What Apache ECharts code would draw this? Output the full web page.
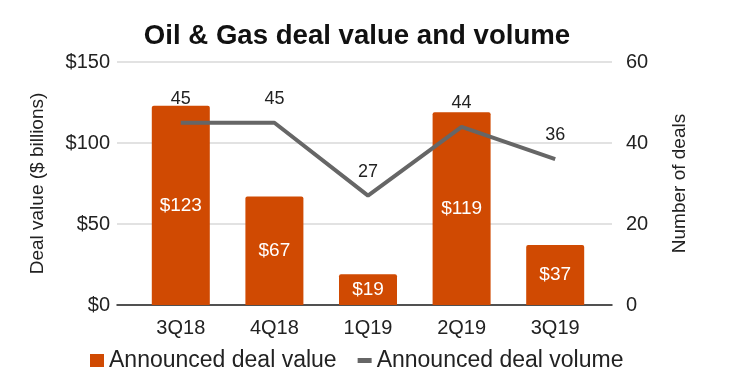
<!DOCTYPE html>
<html><head><meta charset="utf-8">
<script src="https://cdn.jsdelivr.net/npm/echarts@6/dist/echarts.min.js"></script>
<style>html,body{margin:0;padding:0;background:#fff}#c{width:736px;height:387px}</style>
</head><body><div id="c"></div>
<script>
const categories = ['3Q18','4Q18','1Q19','2Q19','3Q19'];
const dealValue = [123, 67, 19, 119, 37];
const dealVolume = [45, 45, 27, 44, 36];
const leftTicks = [0, 50, 100, 150];
const rightTicks = [0, 20, 40, 60];

const font = 'Liberation Sans, Arial, sans-serif';
const chart = echarts.init(document.getElementById('c'));
chart.setOption({
  animation: false,
  title: { text: 'Oil & Gas deal value and volume', left: 352, top: 17, textAlign: 'center',
    textStyle: { fontFamily: font, fontSize: 27.6, fontWeight: 'bold', color: '#111' } },
  legend: {
    top: 344, left: 85, itemGap: 21, itemWidth: 14, itemHeight: 13,
    textStyle: { fontFamily: font, fontSize: 23, color: '#222' },
    data: [
      { name: 'Announced deal value', icon: 'rect' },
      { name: 'Announced deal volume', icon: 'path://M0,0L14,0L14,5L0,5Z', itemStyle: { color: '#666' } }
    ]
  },
  grid: [
    { left: 117, right: 124, top: 62, bottom: 82 },
    { left: 134, right: 134, top: 62, bottom: 82 }
  ],
  xAxis: [
    { gridIndex: 0, type: 'category', data: categories, axisTick: { show: false },
      axisLabel: { show: false }, axisLine: { lineStyle: { color: '#222', width: 1.5 } } },
    { gridIndex: 1, type: 'category', data: categories, axisTick: { show: false },
      axisLine: { show: false },
      axisLabel: { fontFamily: font, fontSize: 20, color: '#222', margin: 13 } }
  ],
  yAxis: [
    { gridIndex: 0, type: 'value', min: 0, max: 150, interval: 50,
      name: 'Deal value ($ billions)', nameLocation: 'middle', nameGap: 70, nameRotate: 90,
      nameTextStyle: { fontFamily: font, fontSize: 19, color: '#222' },
      axisLabel: { formatter: '${value}', fontFamily: font, fontSize: 20, color: '#222', margin: 7 },
      splitLine: { lineStyle: { color: '#d9d9d9', width: 1.5 } } },
    { gridIndex: 0, type: 'value', min: 0, max: 60, interval: 20, position: 'right',
      name: 'Number of deals', nameLocation: 'middle', nameGap: 58, nameRotate: 90,
      nameTextStyle: { fontFamily: font, fontSize: 19, color: '#222' },
      axisLabel: { fontFamily: font, fontSize: 20, color: '#222', margin: 14 },
      splitLine: { show: false } },
    { gridIndex: 1, type: 'value', min: 0, max: 150, show: false },
    { gridIndex: 1, type: 'value', min: 0, max: 60, show: false }
  ],
  series: [
    { name: 'Announced deal value', type: 'bar', xAxisIndex: 1, yAxisIndex: 2, data: dealValue,
      barWidth: 58, itemStyle: { color: '#D04A02', borderRadius: [2,2,0,0] },
      label: { show: true, position: 'inside', formatter: '${c}', color: '#fff', fontFamily: font, fontSize: 19 } },
    { name: 'Announced deal volume', type: 'line', xAxisIndex: 1, yAxisIndex: 3, data: dealVolume,
      symbol: 'circle', symbolSize: 0, showSymbol: true,
      lineStyle: { color: '#666', width: 4 }, itemStyle: { color: '#666' },
      label: { show: true, position: 'top', distance: 15, color: '#222', fontFamily: font, fontSize: 18 } }
  ]
});
</script></body></html>
